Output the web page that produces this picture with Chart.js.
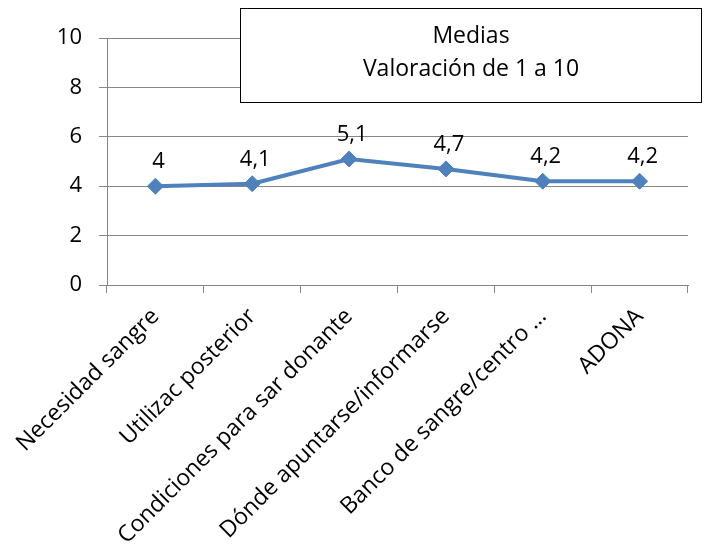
<!DOCTYPE html>
<html>
<head>
<meta charset="utf-8">
<script src="https://cdn.jsdelivr.net/npm/chart.js@4.4.1/dist/chart.umd.min.js"></script>
<style>
  html, body { margin: 0; padding: 0; background: #ffffff; }
  #wrap { width: 709px; height: 544px; }
</style>
</head>
<body>
<div id="wrap"><canvas id="c" width="709" height="544"></canvas></div>
<script>
// Aspectos valorados y su media (escala de 1 a 10)
const categories = [
  'Necesidad sangre',
  'Utilizac posterior',
  'Condiciones para sar donante',
  'Dónde apuntarse/informarse',
  'Banco de sangre/centro …',
  'ADONA'
];
const medias = [4, 4.1, 5.1, 4.7, 4.2, 4.2];
const yMin = 0;
const yMax = 10;
const yStep = 2;
const titleLines = ['Medias', 'Valoración de 1 a 10'];

const FONT = "'Open Sans', Lato, sans-serif";
const LABEL_SIZE = 23;
const TICK_SIZE = 22;
const GRID = '#868686';
const BLUE = '#4F81BD';

const fmt = v => String(v).replace('.', ',');

// Etiquetas de valor sobre cada punto
const valueLabels = {
  id: 'valueLabels',
  afterDatasetsDraw(chart) {
    const ctx = chart.ctx;
    const meta = chart.getDatasetMeta(0);
    ctx.save();
    ctx.font = TICK_SIZE + 'px ' + FONT;
    ctx.fillStyle = '#000';
    ctx.textAlign = 'center';
    ctx.textBaseline = 'alphabetic';
    meta.data.forEach((pt, i) => {
      ctx.fillText(fmt(chart.data.datasets[0].data[i]), pt.x + 3, pt.y - 18);
    });
    ctx.restore();
  }
};

// Recuadro del título superpuesto al área del gráfico
const titleBox = {
  id: 'titleBox',
  afterDraw(chart) {
    const ctx = chart.ctx;
    const x = 240.5, y = 8.5, w = 461, h = 94;
    ctx.save();
    ctx.fillStyle = '#fff';
    ctx.fillRect(x, y, w, h);
    ctx.strokeStyle = '#000';
    ctx.lineWidth = 1;
    ctx.strokeRect(x, y, w, h);
    ctx.fillStyle = '#000';
    ctx.font = LABEL_SIZE + 'px ' + FONT;
    ctx.textAlign = 'center';
    ctx.textBaseline = 'alphabetic';
    ctx.fillText(titleLines[0], x + w / 2, 43);
    ctx.fillText(titleLines[1], x + w / 2, 76);
    ctx.restore();
  }
};

new Chart(document.getElementById('c'), {
  type: 'line',
  data: {
    labels: categories,
    datasets: [{
      data: medias,
      borderColor: BLUE,
      backgroundColor: BLUE,
      borderWidth: 4,
      pointStyle: 'rectRot',
      pointRadius: 8,
      pointBorderWidth: 1,
      pointBackgroundColor: BLUE,
      pointBorderColor: BLUE,
      tension: 0,
      fill: false
    }]
  },
  options: {
    responsive: false,
    animation: false,
    devicePixelRatio: 1,
    layout: { padding: { left: 0, right: 21, top: 38, bottom: 0 } },
    plugins: {
      legend: { display: false },
      title: { display: false },
      tooltip: { enabled: false }
    },
    scales: {
      x: {
        offset: true,
        grid: {
          display: true,
          drawOnChartArea: false,
          drawTicks: true,
          tickLength: 8,
          color: GRID,
          offset: true
        },
        border: { display: true, color: GRID, width: 1 },
        ticks: {
          autoSkip: false,
          minRotation: 45,
          maxRotation: 45,
          padding: 10,
          color: '#000',
          font: { family: FONT, size: LABEL_SIZE }
        },
        afterFit(scale) { scale.height = 259; }
      },
      y: {
        min: yMin,
        max: yMax,
        grid: {
          color: GRID,
          lineWidth: 1,
          tickLength: 8
        },
        border: { display: true, color: GRID, width: 1 },
        ticks: {
          stepSize: yStep,
          padding: 17,
          color: '#000',
          font: { family: FONT, size: TICK_SIZE }
        },
        afterFit(scale) { scale.width = 107; }
      }
    }
  },
  plugins: [valueLabels, titleBox]
});
</script>
</body>
</html>
